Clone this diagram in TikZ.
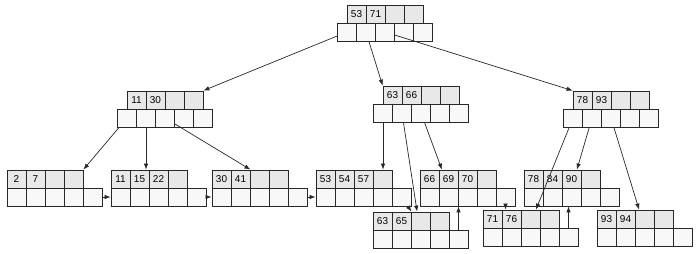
\documentclass[tikz,border=0pt]{standalone}
\usepackage{fontspec}
\setmainfont{Liberation Sans}
\usetikzlibrary{arrows.meta,calc}
\definecolor{keyfill}{RGB}{232,232,232}
\definecolor{ptrfill}{RGB}{248,248,248}
\definecolor{edgegray}{RGB}{40,40,40}

\newcommand{\innernode}[6]{%
  \foreach \k [count=\i] in {{#3},{#4},{#5},{#6}}
    \node[keycell] (#1k\i) at ($(#2)+(\i*19-9.5,9)$) {\k};
  \foreach \i in {1,...,5}
    \node[ptrcell] (#1p\i) at ($(#2)+(\i*19-19,27)$) {};
}
\newcommand{\leafnode}[6]{%
  \foreach \k [count=\i] in {{#3},{#4},{#5},{#6}}
    \node[keycell] (#1k\i) at ($(#2)+(\i*19-9.5,9)$) {\k};
  \foreach \i in {1,...,5}
    \node[ptrcell] (#1p\i) at ($(#2)+(\i*19-9.5,27)$) {};
}

\begin{document}
\begin{tikzpicture}[x=1pt, y=-1pt,
    keycell/.style={draw=edgegray, fill=keyfill, line width=0.8pt, minimum width=19pt, minimum height=18pt, inner sep=0pt, font=\fontsize{10}{12}\selectfont},
    ptrcell/.style={keycell, fill=ptrfill},
    link/.style={draw=edgegray, line width=0.7pt, -{Latex[length=6pt, width=4.5pt]}}]
  \useasboundingbox (0,0) rectangle (699,254);

  \innernode{r}{347,5}{53}{71}{}{}
  \innernode{a}{127,91}{11}{30}{}{}
  \innernode{b}{383,86}{63}{66}{}{}
  \innernode{c}{573,91}{78}{93}{}{}

  \leafnode{la}{7,170}{2}{7}{}{}
  \leafnode{lb}{111,170}{11}{15}{22}{}
  \leafnode{lc}{212,170}{30}{41}{}{}
  \leafnode{ld}{316,170}{53}{54}{57}{}
  \leafnode{le}{373,212}{63}{65}{}{}
  \leafnode{lf}{420,170}{66}{69}{70}{}
  \leafnode{lg}{483,210}{71}{76}{}{}
  \leafnode{lh}{524,170}{78}{84}{90}{}
  \leafnode{li}{597,210}{93}{94}{}{}

  \draw[link] (rp1) -- (ak4.north east);
  \draw[link] (rp2) -- (bk1.north west);
  \draw[link] (rp3) -- (ck1.north west);

  \draw[link] (ap1) -- (lak4.north east);
  \draw[link] (ap2) -- (ap2 |- lbk2.north);
  \draw[link] (ap3) -- (lck2.north east);

  \draw[link] (bp1) -- (bp1 |- ldk4.north);
  \draw[link] (bp2) -- (lek3.110);
  \draw[link] (bp3) -- (lfk2.125);

  \draw[link] (cp1) -- (lgk3.60);
  \draw[link] (cp2) -- (lhk3.60);
  \draw[link] (cp3) -- (lik3.120);

  \draw[link] (lap5) -- (lbp1);
  \draw[link] (lbp5) -- (lcp1);
  \draw[link] (lcp5) -- (ldp1);
  \draw[link] (ldp5) -- (lek2.north east);
  \draw[link] (lep5) -- (lep5 |- lfp3.south);
  \draw[link] (lfp5) -- (lfp5 |- lgk2.north);
  \draw[link] (lgp5) -- (lgp5 |- lhp1.south);
\end{tikzpicture}
\end{document}
